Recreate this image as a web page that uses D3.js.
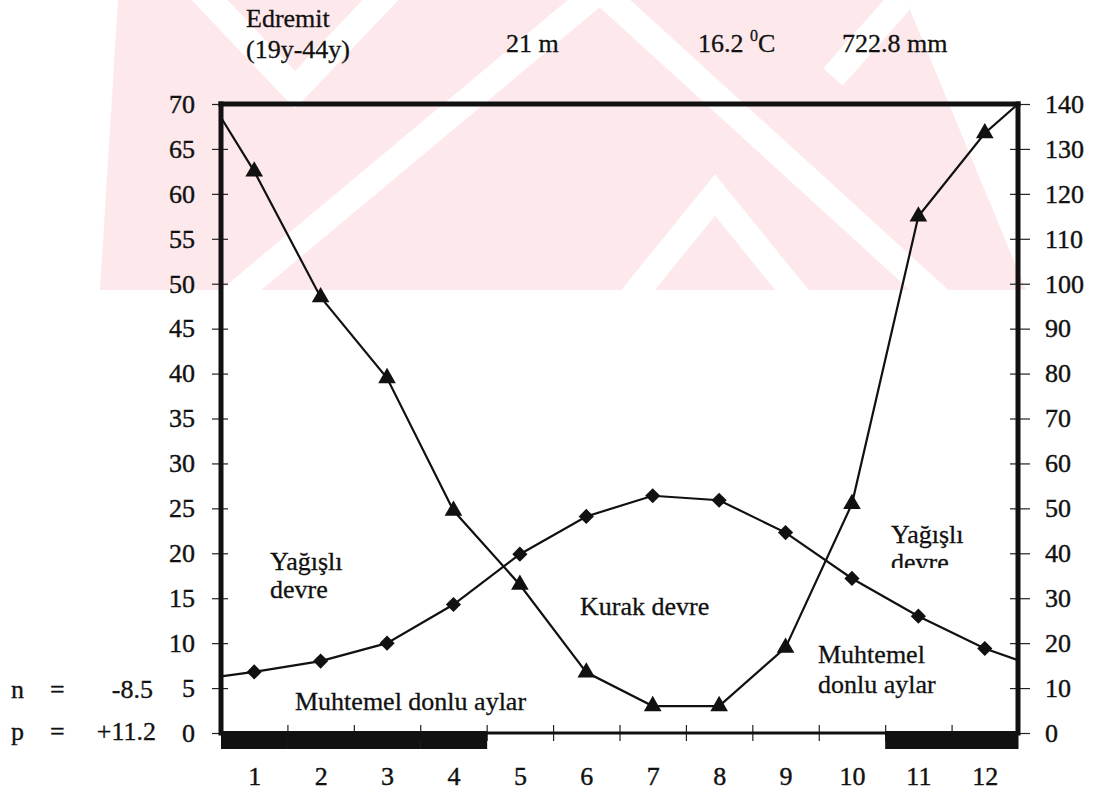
<!DOCTYPE html>
<html>
<head>
<meta charset="utf-8">
<title>Edremit iklim diyagramı</title>
<script src="https://d3js.org/d3.v7.min.js"></script>
<style>
    html, body {
        margin: 0;
        padding: 0;
        background: #fff;
        overflow: hidden;
    }
</style>
</head>
<body>
<svg id="chart" width="1102" height="795"></svg>
<script>
    // Veriler
    const months = [1, 2, 3, 4, 5, 6, 7, 8, 9, 10, 11, 12];
    const monthLabels = ["1", "2", "3", "4", "5", "6", "7", "8", "9", "10", "11", "12"];
    const temperature = [6.8, 8.0, 10.0, 14.3, 19.9, 24.1, 26.4, 25.9, 22.3, 17.2, 13.0, 9.4];
    const precipitation = [125, 97, 79, 49.5, 33, 13.5, 6, 6, 19, 51, 115, 133.5];
    const tempEdges = [6.3, 8.1];     // cizginin cerceveye degdigi degerler
    const precEdges = [137, 140];
    const frostMonths = [1, 2, 3, 4, 11, 12];
    const tempTicks = d3.range(0, 71, 5);
    const precTicks = d3.range(0, 141, 10);

    const FONT = "Liberation Serif";
    const INK = "#111";

    const svg = d3.select("#chart").attr("font-family", FONT);

    // Arka plandaki soluk filigran
    const wm = svg.append("g");
    wm.append("clipPath").attr("id", "wm-clip")
        .append("path").attr("d", "M100,290 L118,0 L906,0 L1026,290 Z");
    const wmg = wm.append("g").attr("clip-path", "url(#wm-clip)");
    wmg.append("rect").attr("x", 0).attr("y", 0).attr("width", 1102).attr("height", 290)
        .attr("fill", "#fde8ec");
    const whiteBands = [
        [[200, -10], [295, 90], [390, -10]],
        [[229, 300], [600, -10]],
        [[600, -10], [940, 300]],
        [[630, 300], [715, 195], [800, 300]],
        [[833, 77], [910, -10]]
    ];
    whiteBands.forEach(b => {
        wmg.append("path").attr("d", d3.line()(b))
            .attr("fill", "none").attr("stroke", "#fff").attr("stroke-width", 26);
    });

    // Olcekler
    const x = d3.scaleLinear().domain([0.5, 12.5]).range([221, 1018]);
    const yT = d3.scaleLinear().domain([0, 70]).range([733, 104]);
    const yP = d3.scaleLinear().domain([0, 140]).range([733, 104]);

    function styleAxis(g) {
        g.attr("font-family", FONT);
        g.select(".domain").remove();
        g.selectAll(".tick line").attr("stroke", "#222").attr("stroke-width", 1.2);
        g.selectAll(".tick text").attr("font-size", 26).attr("font-family", FONT)
            .attr("fill", INK).attr("stroke", INK).attr("stroke-width", 0.4);
    }

    // Sol eksen (sicaklik)
    const left = svg.append("g").attr("transform", "translate(220,0)")
        .call(d3.axisLeft(yT).tickValues(tempTicks).tickSize(8).tickPadding(17))
        .call(styleAxis);
    left.selectAll(".tick line").attr("x1", 8);

    // Sag eksen (yagis)
    const right = svg.append("g").attr("transform", "translate(1018,0)")
        .call(d3.axisRight(yP).tickValues(precTicks).tickSize(12).tickPadding(15))
        .call(styleAxis);
    right.selectAll(".tick line").attr("x1", -8);

    // Alt eksen: ay sinirlarindaki cizgiler ve ay etiketleri
    const bottomTicks = svg.append("g").attr("transform", "translate(0,733)")
        .call(d3.axisBottom(x).tickValues(d3.range(1.5, 12.5, 1)).tickSize(8).tickFormat(""))
        .call(styleAxis);
    bottomTicks.selectAll(".tick line").attr("y1", -8);

    svg.append("g").attr("transform", "translate(0,733)")
        .call(d3.axisBottom(x).tickValues(months).tickSize(0).tickPadding(34)
            .tickFormat((d, i) => monthLabels[i]))
        .call(styleAxis);

    // Cerceve
    const frame = svg.append("g").attr("stroke", INK).attr("stroke-linecap", "square");
    frame.append("line").attr("x1", x(0.5)).attr("x2", x(12.5)).attr("y1", yT(70)).attr("y2", yT(70)).attr("stroke-width", 5);
    frame.append("line").attr("x1", x(0.5)).attr("x2", x(0.5)).attr("y1", yT(70)).attr("y2", yT(0)).attr("stroke-width", 5);
    frame.append("line").attr("x1", x(12.5)).attr("x2", x(12.5)).attr("y1", yT(70)).attr("y2", yT(0)).attr("stroke-width", 5);
    frame.append("line").attr("x1", x(0.5)).attr("x2", x(12.5)).attr("y1", yT(0)).attr("y2", yT(0)).attr("stroke-width", 3);

    // Donlu aylar (kalin siyah seritler)
    svg.append("g").selectAll("rect")
        .data(frostMonths)
        .join("rect")
        .attr("x", d => x(d - 0.5))
        .attr("width", d => x(d + 0.5) - x(d - 0.5) + 0.5)
        .attr("y", yT(0) - 2)
        .attr("height", 18)
        .attr("fill", INK);

    // Sicaklik egrisi (baklava isaretli)
    const tempPts = [[0.5, tempEdges[0]]].concat(months.map((m, i) => [m, temperature[i]]), [[12.5, tempEdges[1]]]);
    svg.append("path")
        .attr("d", d3.line().x(d => x(d[0])).y(d => yT(d[1]))(tempPts))
        .attr("fill", "none").attr("stroke", INK).attr("stroke-width", 2.2);
    svg.append("g").selectAll("path")
        .data(temperature)
        .join("path")
        .attr("d", d3.symbol(d3.symbolSquare, 115))
        .attr("transform", (d, i) => `translate(${x(months[i])},${yT(d)}) rotate(45)`)
        .attr("fill", INK);

    // Yagis egrisi (ucgen isaretli)
    const precPts = [[0.5, precEdges[0]]].concat(months.map((m, i) => [m, precipitation[i]]), [[12.5, precEdges[1]]]);
    svg.append("path")
        .attr("d", d3.line().x(d => x(d[0])).y(d => yP(d[1]))(precPts))
        .attr("fill", "none").attr("stroke", INK).attr("stroke-width", 2.2);
    svg.append("g").selectAll("path")
        .data(precipitation)
        .join("path")
        .attr("d", d3.symbol(d3.symbolTriangle, 135))
        .attr("transform", (d, i) => `translate(${x(months[i])},${yP(d)})`)
        .attr("fill", INK);

    // Metinler
    const txt = (s, tx, ty, anchor) => svg.append("text").attr("x", tx).attr("y", ty)
        .attr("font-size", 26).attr("font-family", FONT).attr("fill", INK)
        .attr("stroke", INK).attr("stroke-width", 0.3)
        .attr("text-anchor", anchor || "start").text(s);

    txt("Edremit", 246, 27);
    txt("(19y-44y)", 246, 58);
    txt("21 m", 506, 52);
    const deg = txt("", 698, 52);
    deg.append("tspan").text("16.2 ");
    deg.append("tspan").attr("font-size", 16).attr("dy", -11).text("0");
    deg.append("tspan").attr("dy", 11).text("C");
    txt("722.8 mm", 842, 52);

    txt("Yağışlı", 270, 570);
    txt("devre", 270, 598);
    txt("Kurak devre", 580, 615);

    svg.append("clipPath").attr("id", "clip-r")
        .append("rect").attr("x", 880).attr("y", 500).attr("width", 120).attr("height", 68);
    const rl = svg.append("g").attr("clip-path", "url(#clip-r)");
    rl.append("text").attr("x", 891).attr("y", 543).attr("font-size", 26).attr("font-family", FONT)
        .attr("fill", INK).attr("stroke", INK).attr("stroke-width", 0.3).text("Yağışlı");
    rl.append("text").attr("x", 891).attr("y", 571).attr("font-size", 26).attr("font-family", FONT)
        .attr("fill", INK).attr("stroke", INK).attr("stroke-width", 0.3).text("devre");

    txt("Muhtemel", 818, 663);
    txt("donlu aylar", 818, 693);
    txt("Muhtemel donlu aylar", 295, 710);

    txt("n", 11, 698);
    txt("=", 50, 698);
    txt("-8.5", 153, 698, "end");
    txt("p", 11, 740);
    txt("=", 50, 740);
    txt("+11.2", 156, 740, "end");
</script>
</body>
</html>
